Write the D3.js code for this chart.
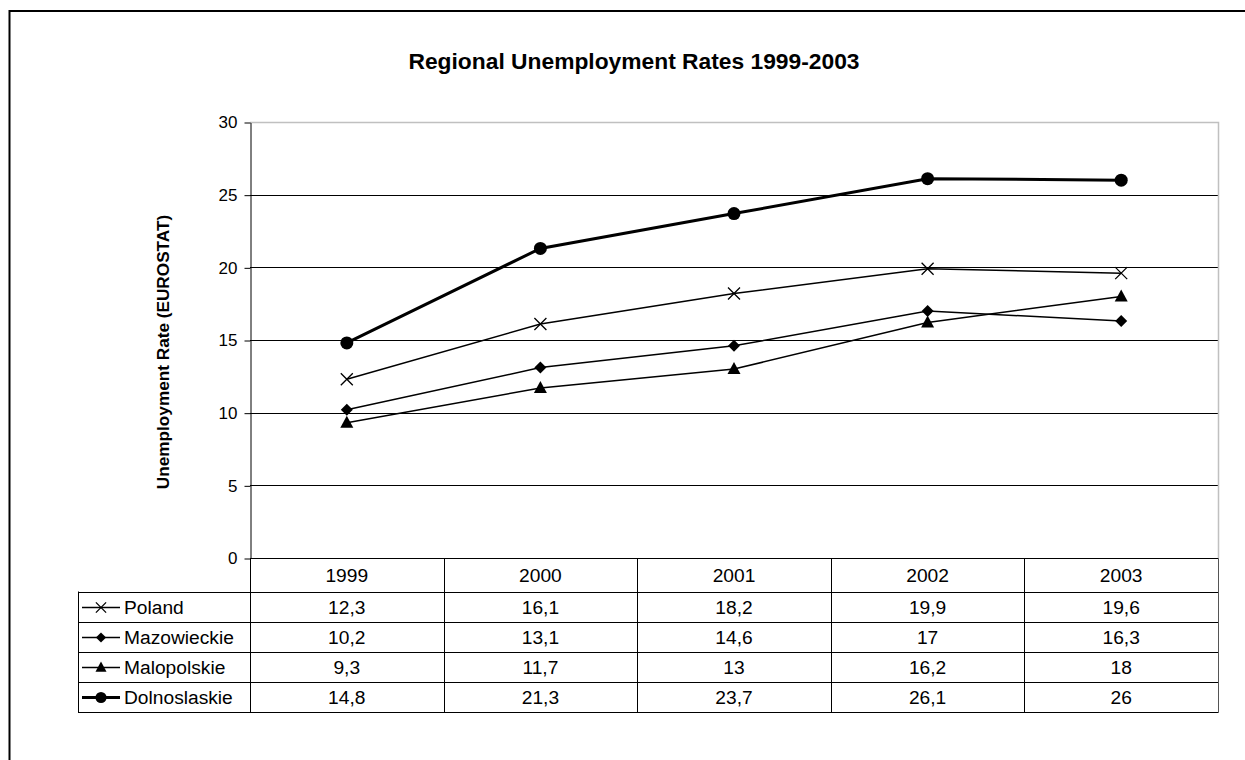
<!DOCTYPE html>
<html>
<head>
<meta charset="utf-8">
<script src="https://cdn.jsdelivr.net/npm/d3@7"></script>
<style>
  body { margin: 0; background: #fff; }
  svg { display: block; font-family: "Liberation Sans", Arial, sans-serif; }
</style>
</head>
<body>
<div id="chart"></div>
<script>
// 数据
const years = ['1999', '2000', '2001', '2002', '2003'];
const seriesNames = ['Poland', 'Mazowieckie', 'Malopolskie', 'Dolnoslaskie'];
const seriesLabels = [
  ['12,3', '16,1', '18,2', '19,9', '19,6'],
  ['10,2', '13,1', '14,6', '17', '16,3'],
  ['9,3', '11,7', '13', '16,2', '18'],
  ['14,8', '21,3', '23,7', '26,1', '26']
];
const poland = [12.3, 16.1, 18.2, 19.9, 19.6];
const mazowieckie = [10.2, 13.1, 14.6, 17, 16.3];
const malopolskie = [9.3, 11.7, 13, 16.2, 18];
const dolnoslaskie = [14.8, 21.3, 23.7, 26.1, 26];
const yTicks = [0, 5, 10, 15, 20, 25, 30];

const series = [
  { name: seriesNames[0], values: poland, marker: 'cross', width: 1.5 },
  { name: seriesNames[1], values: mazowieckie, marker: 'diamond', width: 1.5 },
  { name: seriesNames[2], values: malopolskie, marker: 'triangle', width: 1.5 },
  { name: seriesNames[3], values: dolnoslaskie, marker: 'circle', width: 3 }
];

const W = 1245, H = 760;
const plot = { left: 250, right: 1218, top: 122, bottom: 558 };
const rowH = 30, headH = 33, tableLeft = 78;
const tableFont = 19.2;

const svg = d3.select('#chart').append('svg')
  .attr('width', W).attr('height', H);

// 外框
svg.append('rect')
  .attr('x', 9.5).attr('y', 11).attr('width', 1260).attr('height', 800)
  .attr('fill', 'none').attr('stroke', '#000').attr('stroke-width', 2);

// 标题
svg.append('text')
  .attr('x', 634).attr('y', 69)
  .attr('text-anchor', 'middle')
  .attr('font-size', 22.8).attr('font-weight', 'bold')
  .text('Regional Unemployment Rates 1999-2003');

const x = d3.scaleBand().domain(years).range([plot.left, plot.right]);
const y = d3.scaleLinear().domain([0, 30]).range([plot.bottom, plot.top]);

// 网格线
svg.append('g')
  .selectAll('line')
  .data(yTicks.filter(d => d > 0 && d < 30))
  .join('line')
  .attr('x1', plot.left).attr('x2', plot.right)
  .attr('y1', d => Math.round(y(d)) + 0.5).attr('y2', d => Math.round(y(d)) + 0.5)
  .attr('stroke', '#000').attr('stroke-width', 1);

// 绘图区边框（上、右灰色）
svg.append('path')
  .attr('d', `M${plot.left},${plot.top + 0.5}H${plot.right + 0.5}V${plot.bottom}`)
  .attr('fill', 'none').attr('stroke', '#c0c0c0').attr('stroke-width', 1.5);

// Y 轴
const yAxis = svg.append('g')
  .attr('transform', `translate(${plot.left + 0.5},0.5)`)
  .call(d3.axisLeft(y).tickValues(yTicks).tickSize(6).tickPadding(7).tickSizeOuter(0));
yAxis.select('.domain').attr('stroke', '#000');
yAxis.selectAll('text').attr('font-size', 17).attr('font-family', '"Liberation Sans", Arial, sans-serif').attr('fill', '#000');

// Y 轴标题
svg.append('text')
  .attr('transform', 'translate(169,352) rotate(-90)')
  .attr('text-anchor', 'middle')
  .attr('font-size', 17.2).attr('font-weight', 'bold')
  .text('Unemployment Rate (EUROSTAT)');

// 数据表
const table = svg.append('g').attr('fill', 'none').attr('stroke', '#000').attr('stroke-width', 1);
const tableTop = plot.bottom + 0.5;
const rowsTop = tableTop + headH;
const tableBottom = rowsTop + rowH * series.length;

// 表头行
table.append('line').attr('x1', plot.left).attr('x2', plot.right + 0.5)
  .attr('y1', tableTop).attr('y2', tableTop);
// 各行横线
d3.range(series.length + 1).forEach(i => {
  table.append('line').attr('x1', tableLeft).attr('x2', plot.right + 0.5)
    .attr('y1', Math.round(rowsTop + i * rowH) + 0.5).attr('y2', Math.round(rowsTop + i * rowH) + 0.5);
});
// 竖线
table.append('line').attr('x1', tableLeft + 0.5).attr('x2', tableLeft + 0.5)
  .attr('y1', rowsTop).attr('y2', Math.round(tableBottom) + 0.5);
years.concat(['end']).forEach((yr, i) => {
  const xx = Math.round(plot.left + i * x.bandwidth()) + 0.5;
  table.append('line').attr('x1', xx).attr('x2', xx)
    .attr('y1', tableTop).attr('y2', Math.round(tableBottom) + 0.5)
    .attr('stroke', i === years.length ? '#555' : '#000');
});

// 表头年份
svg.append('g').selectAll('text')
  .data(years).join('text')
  .attr('x', d => x(d) + x.bandwidth() / 2)
  .attr('y', tableTop + 23)
  .attr('text-anchor', 'middle').attr('font-size', tableFont)
  .text(d => d);

// 表格数值
series.forEach((s, i) => {
  svg.append('g').selectAll('text')
    .data(years).join('text')
    .attr('x', d => x(d) + x.bandwidth() / 2)
    .attr('y', rowsTop + i * rowH + 22)
    .attr('text-anchor', 'middle').attr('font-size', tableFont)
    .text((d, j) => seriesLabels[i][j]);
});

// 标记符号
function drawMarker(g, type, cx, cy, s = 1) {
  if (type === 'cross') {
    const r = 6 * s;
    g.append('path')
      .attr('d', `M${cx - r},${cy - r}L${cx + r},${cy + r}M${cx - r},${cy + r}L${cx + r},${cy - r}`)
      .attr('stroke', '#000').attr('stroke-width', 1.3).attr('fill', 'none');
  } else if (type === 'diamond') {
    const r = 6 * s;
    g.append('path')
      .attr('d', `M${cx},${cy - r}L${cx + r},${cy}L${cx},${cy + r}L${cx - r},${cy}Z`)
      .attr('fill', '#000');
  } else if (type === 'triangle') {
    g.append('path')
      .attr('d', `M${cx},${cy - 7 * s}L${cx + 6.5 * s},${cy + 5 * s}L${cx - 6.5 * s},${cy + 5 * s}Z`)
      .attr('fill', '#000');
  } else {
    g.append('circle').attr('cx', cx).attr('cy', cy).attr('r', 6.5 * s).attr('fill', '#000');
  }
}

const line = d3.line()
  .x((d, i) => x(years[i]) + x.bandwidth() / 2)
  .y(d => y(d));

// 折线
series.forEach(s => {
  const g = svg.append('g');
  g.append('path')
    .datum(s.values)
    .attr('d', line)
    .attr('fill', 'none').attr('stroke', '#000')
    .attr('stroke-width', s.width);
  s.values.forEach((v, i) => {
    drawMarker(g, s.marker, x(years[i]) + x.bandwidth() / 2, y(v));
  });
});

// 图例（表格左侧）
series.forEach((s, i) => {
  const cy = rowsTop + i * rowH + 16;
  const g = svg.append('g');
  g.append('line').attr('x1', 82).attr('x2', 120).attr('y1', cy).attr('y2', cy)
    .attr('stroke', '#000').attr('stroke-width', s.width);
  drawMarker(g, s.marker, 101, cy, 0.85);
  g.append('text').attr('x', 124).attr('y', cy + 6.5)
    .attr('font-size', tableFont).text(s.name);
});
</script>
</body>
</html>
